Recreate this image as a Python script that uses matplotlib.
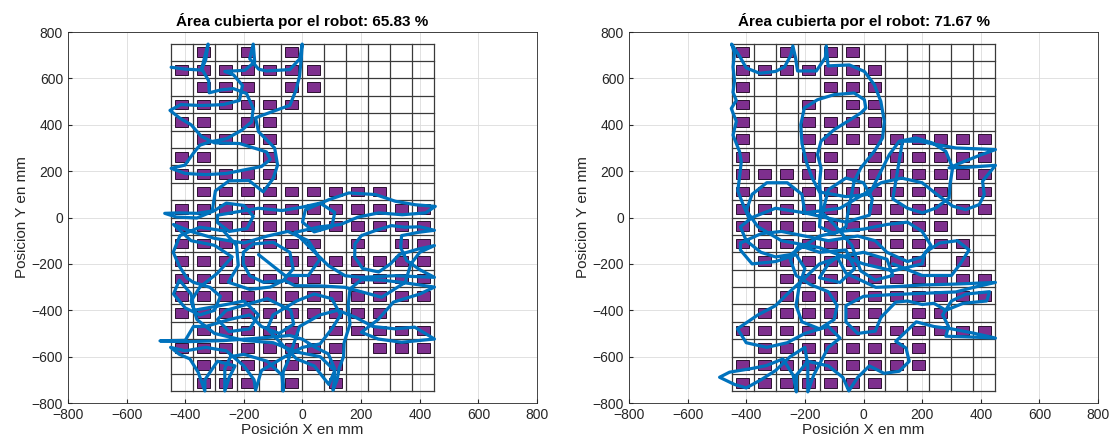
import numpy as np
import matplotlib.pyplot as plt
from matplotlib.patches import Rectangle

# --- Data ---

titles = ["Área cubierta por el robot: 65.83 %", "Área cubierta por el robot: 71.67 %"]

# grid cells (75 mm), x from -450 to 450, y from 750 to -750
x_edges = np.arange(-450, 451, 75)
y_edges = np.arange(-750, 751, 75)

# visited cells, one string per row, top row first ("1" = visited)
visited_left = [
    "010101000000",
    "111111100000",
    "011101100000",
    "111111000000",
    "110110000000",
    "011110000000",
    "110010000000",
    "111110000000",
    "011111111100",
    "111111111111",
    "111111111111",
    "111111101011",
    "111101111111",
    "111111111111",
    "111111111111",
    "111111111100",
    "011111011111",
    "111111110111",
    "011111110000",
    "011101010000",
]

visited_right = [
    "101011000000",
    "111111100000",
    "100011100000",
    "100101100000",
    "100111100000",
    "100111111111",
    "100110111111",
    "111111111111",
    "111111111101",
    "111111111111",
    "111111111100",
    "111111111110",
    "011111111010",
    "001111111111",
    "001111111111",
    "011111101100",
    "111111111111",
    "011111111000",
    "111111111000",
    "111111100000",
]

# robot trajectories (mm)
path_left = [
    (-448, 648), (-400, 640), (-345, 636), (-330, 680), (-322, 748),
    (-334, 690), (-344, 642), (-320, 590), (-318, 538),
    (-280, 550), (-236, 556), (-191, 535), (-168, 470), (-174, 412),
    (-208, 376), (-259, 340), (-316, 326), (-350, 312), (-373, 276),
    (-401, 226), (-448, 212), (-400, 190), (-330, 185), (-260, 190),
    (-200, 205), (-140, 220), (-110, 250), (-123, 283), (-214, 319),
    (-300, 322), (-345, 350), (-380, 400), (-420, 430), (-452, 462),
    (-415, 487), (-345, 483), (-270, 487), (-215, 505), (-205, 570),
    (-235, 615), (-265, 630), (-197, 635), (-163, 671), (-168, 748),
    (-180, 685), (-150, 640), (-123, 632), (-43, 638), (-9, 685),
    (-1, 748), (-4, 690), (-10, 610), (-22, 550), (-43, 484),
    (-111, 453), (-160, 430), (-150, 370), (-95, 300), (-85, 226),
    (-100, 168), (-134, 111), (-183, 160), (-251, 158), (-297, 115),
    (-308, 28), (-360, 18), (-420, 20), (-470, 18), (-430, 2),
    (-360, -2), (-300, 30), (-260, 62), (-200, 52), (-168, 5),
    (-190, -48), (-250, -60), (-290, -22), (-290, 10), (-220, 25),
    (-150, 40), (-70, 30), (0, 45), (60, 62), (110, 22), (100, -40),
    (40, -62), (0, -20), (10, 33), (90, 77), (158, 106), (249, 99),
    (317, 70), (385, 55), (453, 48), (420, 20), (340, 12), (260, 20),
    (190, 2), (130, -30), (60, -40), (-26, -64), (42, -150),
    (88, -207), (145, -251), (201, -258), (315, -251), (450, -258),
    (400, -225), (355, -185), (335, -130), (338, -78), (395, -64),
    (450, -55), (400, -40), (349, -42), (304, -35), (247, -57),
    (201, -78), (179, -114), (178, -170), (205, -220), (260, -235),
    (300, -200), (330, -160), (395, -136), (450, -121),
    (400, -150), (370, -200), (350, -280), (270, -344), (145, -301),
    (60, -295), (-26, -294), (-60, -272), (-134, -279), (-180, -251),
    (-202, -200), (-202, -150), (-168, -114), (-100, -107), (-43, -150),
    (-32, -222), (-66, -272), (-110, -300), (-180, -310),
    (-253, -279), (-219, -207), (-225, -121), (-270, -57), (-350, -42),
    (-418, -78), (-441, -150), (-420, -210), (-395, -260), (-373, -279),
    (-316, -301), (-280, -340), (-300, -400), (-350, -420), (-400, -390),
    (-440, -330), (-420, -270), (-380, -330), (-370, -400),
    (-280, -380), (-200, -360), (-150, -420), (-180, -480), (-250, -492),
    (-290, -440), (-260, -400), (-120, -350), (-40, -400), (-30, -460),
    (-80, -500), (-140, -470), (-180, -420), (-250, -440), (-330, -470),
    (-372, -470), (-400, -530), (-486, -532),
    (-384, -535), (-270, -531), (-157, -521), (-43, -509), (0, -525),
    (42, -559), (88, -588), (110, -653), (108, -710), (104, -745),
    (118, -700), (125, -650), (140, -600), (142, -540), (162, -460),
    (156, -380), (162, -308), (201, -268), (270, -270), (340, -280),
    (450, -300),
    (400, -330), (310, -365), (258, -440), (201, -495), (258, -524),
    (338, -538), (450, -524), (383, -473), (315, -480), (240, -470),
    (180, -430), (120, -400), (60, -420), (-10, -470), (-49, -617),
    (-66, -667), (-66, -748), (-70, -680), (-120, -620), (-200, -590),
    (-245, -600), (-265, -650), (-265, -748), (-250, -690), (-230, -640),
    (-290, -620), (-333, -700), (-333, -748), (-356, -667), (-384, -610),
    (-420, -590), (-450, -560), (-400, -575), (-330, -560), (-260, -575),
    (-200, -640), (-165, -700), (-160, -745), (-140, -660), (-60, -600),
    (0, -560), (60, -545), (100, -480), (130, -420), (100, -350),
    (40, -330), (-20, -360), (-100, -420), (-120, -480), (-60, -560),
    (-20, -610), (40, -640), (90, -720), (110, -660), (60, -600),
    (-20, -580), (-100, -540), (-200, -530), (-300, -500), (-360, -440),
    (-380, -360), (-350, -300), (-290, -240), (-240, -170), (-300, -120),
    (-380, -100), (-440, -30), (-380, -60), (-300, -90), (-200, -110),
    (-120, -80), (-50, -60), (20, -100), (60, -180), (20, -250),
    (-60, -250), (-110, -200), (-150, -160),
]

path_right = [
    (-390, -5), (-411, 57), (-429, 115), (-423, 172), (-417, 240),
    (-423, 285), (-445, 355), (-434, 415), (-451, 470), (-434, 505),
    (-445, 540), (-440, 590), (-445, 650), (-440, 710), (-450, 748),
    (-420, 690), (-400, 645), (-354, 622), (-300, 630), (-269, 650),
    (-248, 700), (-241, 740), (-232, 690), (-225, 632), (-161, 632),
    (-130, 690), (-127, 740), (-121, 654), (-48, 658), (3, 630),
    (37, 573), (59, 501), (71, 415), (65, 343), (37, 286),
    (-9, 214), (-32, 156), (-43, 84), (-54, 13), (-60, -40),
    (-100, -70), (-150, -40), (-145, 60), (-150, 150), (-145, 214),
    (-157, 271), (-145, 329), (-100, 379), (-54, 415), (-9, 451),
    (8, 472), (3, 508), (-32, 537), (-100, 530), (-157, 508),
    (-202, 472), (-214, 400), (-210, 320), (-195, 240), (-175, 170),
    (-150, 110), (-60, 90), (20, 100), (88, 271), (122, 329),
    (179, 343), (236, 321), (281, 285), (304, 214), (295, 142),
    (292, 84), (247, 41), (201, 20), (150, 40), (100, 80),
    (133, 329), (190, 329), (247, 315), (315, 300), (450, 293),
    (400, 270), (340, 240), (292, 214), (361, 217), (450, 225),
    (406, 156), (412, 99), (395, 56), (349, 34), (304, 49),
    (250, 100), (200, 150), (130, 170), (60, 150), (0, 100),
    (-80, 40), (-200, 20), (-300, 40), (-380, 0),
    (-420, -40), (-400, -100), (-350, -150), (-300, -170), (-250, -160),
    (-200, -120), (-150, -80), (-80, -60), (0, -50), (80, -30),
    (150, -20), (200, -60), (230, -120), (200, -170), (150, -190),
    (80, -150), (40, -100), (-20, -80), (-120, -100), (-200, -80),
    (-280, -60), (-350, -70), (-420, -110), (-420, -140), (-380, -200),
    (-300, -190), (-230, -160), (-200, -220), (-220, -300), (-230, -380),
    (-210, -450), (-150, -480), (-100, -440), (-90, -380), (-120, -320),
    (-180, -290), (-230, -250), (-250, -180), (-220, -120), (-150, -150),
    (-60, -140), (-30, -220), (-80, -280), (-150, -260), (-120, -200),
    (-90, -170), (-60, -240), (42, -301), (122, -297), (201, -291),
    (315, -287), (450, -280), (380, -300), (315, -321), (201, -327),
    (88, -333), (0, -340), (-60, -380), (-60, -450), (-20, -500),
    (40, -490), (60, -430), (110, -365), (150, -360), (200, -375),
    (240, -370), (281, -400), (340, -370), (420, -360), (430, -320),
    (350, -330), (300, -360), (270, -420), (290, -470), (281, -512),
    (361, -515), (450, -520), (380, -500), (300, -480), (240, -470),
    (180, -450), (110, -534), (145, -563), (156, -620), (122, -663),
    (70, -672), (20, -640), (-20, -690), (-50, -748), (-70, -690),
    (-120, -640), (-190, -620), (-229, -680), (-229, -752), (-240, -680),
    (-275, -610), (-332, -639), (-389, -653), (-457, -667), (-491, -689),
    (-440, -720), (-400, -735), (-350, -700), (-300, -660), (-250, -600),
    (-200, -560), (-190, -640), (-190, -752), (-170, -680), (-120, -560),
    (-80, -520), (-120, -470), (-200, -500), (-260, -540), (-330, -560),
    (-400, -540), (-430, -480), (-360, -420), (-300, -380), (-260, -330),
    (-200, -260), (-150, -200), (-80, -170), (0, -150), (80, -180),
    (100, -250), (40, -270), (-10, -230), (-40, -120), (-100, -30),
    (-140, 20), (-120, 120), (-60, 170), (0, 150), (30, 80),
    (20, 10), (-60, -20), (-200, 20), (-210, 100), (-260, 150),
    (-330, 150), (-380, 100), (-400, 30), (-360, -40), (-280, -100),
    (-150, -130), (0, -200), (100, -230), (200, -200), (210, -150),
    (260, -110), (320, -100), (360, -140), (330, -200), (300, -250),
    (200, -250), (100, -200),
]

paths = [path_left, path_right]
visited = [visited_left, visited_right]

# --- Plotting ---

plt.rcParams['font.family'] = ['Liberation Sans', 'DejaVu Sans']
fig = plt.figure(figsize=(11.16, 4.46), dpi=100)
ax_left = fig.add_axes([0.0609, 0.0964, 0.4203, 0.8318])
ax_right = fig.add_axes([0.5636, 0.0964, 0.4203, 0.8318])

for ax, title, cells, path in zip([ax_left, ax_right], titles, visited, paths):
    # background grid of the workspace
    for xe in x_edges:
        ax.plot([xe, xe], [y_edges[0], y_edges[-1]], color='#3a3a3a', lw=0.9, zorder=2)
    for ye in y_edges:
        ax.plot([x_edges[0], x_edges[-1]], [ye, ye], color='#3a3a3a', lw=0.9, zorder=2)

    # visited cells
    for r, row in enumerate(cells):
        yc = (y_edges[-1 - r] + y_edges[-2 - r]) / 2
        for c, flag in enumerate(row):
            if flag == "1":
                xc = (x_edges[c] + x_edges[c + 1]) / 2
                ax.add_patch(Rectangle((xc - 22, yc - 21), 44, 42,
                                       facecolor='#7E2F8E', edgecolor='#2b1030',
                                       lw=0.7, zorder=3))

    px = [p[0] for p in path]
    py = [p[1] for p in path]
    ax.plot(px, py, color='#0072BD', lw=2.3, zorder=4, solid_capstyle='round',
            solid_joinstyle='round')

    ax.set_xlim(-800, 800)
    ax.set_ylim(-800, 800)
    ax.set_xticks(np.arange(-800, 801, 200))
    ax.set_yticks(np.arange(-800, 801, 200))
    ax.grid(True, color='#dcdcdc', lw=0.6, zorder=0)
    ax.set_axisbelow(True)
    ax.tick_params(labelsize=10, colors='#262626', direction='in', length=3)
    for s in ax.spines.values():
        s.set_color('#262626')
        s.set_linewidth(0.6)
    ax.set_title(title, fontsize=11, fontweight='bold', pad=4)
    ax.set_xlabel('Posición X en mm', fontsize=11, color='#262626', labelpad=1)
    ax.set_ylabel('Posicion Y en mm', fontsize=11, color='#262626', labelpad=2)

fig.savefig('out.png', dpi=100)
